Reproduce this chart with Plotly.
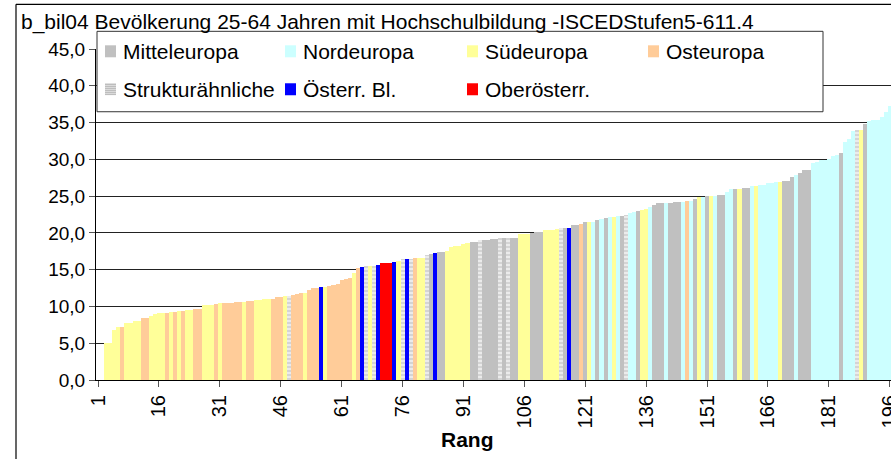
import plotly.graph_objects as go

# ---------------- data ----------------
ranks = list(range(3, 197))
values = [
    5.0, 5.0, 6.8, 7.2, 7.2, 7.75, 7.8, 8.0,
    8.0, 8.4, 8.45, 8.7, 8.95, 9.1, 9.1, 9.1, 9.25, 9.25,
    9.4, 9.4, 9.5, 9.5, 9.65, 9.65, 10.2, 10.2, 10.2, 10.35,
    10.45, 10.5, 10.5, 10.5, 10.6, 10.6, 10.65, 10.75, 10.75, 10.85,
    10.9, 10.95, 10.95, 11.0, 11.3, 11.3, 11.4, 11.4, 11.5, 11.65,
    11.8, 11.8, 12.2, 12.5, 12.5, 12.65, 12.65, 12.8, 12.95, 13.05,
    13.6, 13.7, 13.85, 14.55, 15.2, 15.35, 15.5, 15.5, 15.5, 15.65,
    15.9, 15.9, 15.9, 16.05, 16.2, 16.45, 16.45, 16.5, 16.6, 16.6,
    16.6, 17.0, 17.15, 17.3, 17.4, 17.45, 17.55, 18.1, 18.25, 18.25,
    18.55, 18.6, 18.75, 18.8, 19.05, 19.05, 19.1, 19.2, 19.2, 19.3,
    19.3, 19.3, 19.35, 19.35, 19.85, 19.9, 19.9, 20.05, 20.15, 20.15,
    20.35, 20.4, 20.4, 20.5, 20.65, 20.65, 20.7, 21.1, 21.1, 21.25,
    21.5, 21.5, 21.5, 21.8, 21.95, 22.05, 22.2, 22.2, 22.35, 22.35,
    22.5, 22.75, 22.9, 23.0, 23.15, 23.3, 23.55, 23.85, 24.0, 24.0,
    24.0, 24.1, 24.25, 24.25, 24.25, 24.4, 24.4, 24.65, 24.9, 24.9,
    25.05, 25.05, 25.05, 25.2, 25.2, 25.5, 25.9, 26.0, 26.0, 26.15,
    26.15, 26.4, 26.4, 26.55, 26.55, 26.8, 26.8, 26.95, 26.95, 27.1,
    27.1, 27.65, 27.9, 28.2, 28.6, 28.6, 29.55, 29.7, 29.85, 29.95,
    30.1, 30.4, 30.65, 30.9, 32.4, 32.8, 33.8, 34.05, 34.05, 34.75,
    35.15, 35.3, 35.4, 35.8, 36.4, 37.3,
]
region_codes = (
    "SSSSOSSS"
    "SOOSSSSOSO"
    "SOSSOOSSSO"
    "SOOOOOSOOS"
    "SSSOOOSXOO"
    "OSOOOASOOO"
    "OOOSOAXSXA"
    "RRRASXAXOS"
    "SXMAMMSSSS"
    "SSMMXMMMMX"
    "MXMMSSSMMM"
    "SSSSXMAMMO"
    "MSNMNMNSNM"
    "XNNMSSNMMM"
    "NMMMNONMSN"
    "MSNMMNNMSM"
    "MNSNNNNNSM"
    "MMNMMMNNNN"
    "NNNMNNNXSM"
    "NNNNNN"
)
region_keys = ["M", "N", "S", "O", "X", "A", "R"]
region_names = ["Mitteleuropa", "Nordeuropa", "Südeuropa", "Osteuropa",
                "Strukturähnliche", "Österr. Bl.", "Oberösterr."]
region_colors = ["#C0C0C0", "#CCFFFF", "#FFFF99", "#FFCC99",
                 "#E8E8E8", "#0000FF", "#FF0000"]
tick_ranks = list(range(1, 197, 15))
title_text = "b_bil04 Bevölkerung 25-64 Jahren mit Hochschulbildung -ISCEDStufen5-611.4"

# ---------------- geometry helpers ----------------
W, H = 891, 459
ML, MT, MB = 96, 48.7, 79
PW = W - ML
PH = H - MT - MB
BOTTOM = H - MB


def px(x):
    return (x - ML) / PW


def py(y):
    return (BOTTOM - y) / PH


FONT = "Liberation Sans, Arial, sans-serif"

fig = go.Figure()
for key, name, col in zip(region_keys, region_names, region_colors):
    xs = [r for r, c in zip(ranks, region_codes) if c == key]
    ys = [v for v, c in zip(values, region_codes) if c == key]
    marker = dict(color=col, line=dict(width=0))
    if key == "X":
        marker["pattern"] = dict(shape="-", fgcolor="#B8B8B8", bgcolor="#EBEBEB",
                                 size=4, solidity=0.45)
    fig.add_trace(go.Bar(x=xs, y=ys, name=name, width=1, marker=marker,
                         showlegend=False, hoverinfo="x+y"))

fig.update_layout(
    width=W, height=H,
    margin=dict(l=ML, r=0, t=MT, b=MB, pad=0, autoexpand=False),
    paper_bgcolor="white", plot_bgcolor="white",
    barmode="overlay", bargap=0,
    separators=",.",
    font=dict(family=FONT, size=20, color="black"),
    xaxis=dict(range=[0.5, 0.5 + PW / 4.06], tickmode="array", tickvals=tick_ranks,
               ticktext=[str(t) for t in tick_ranks], tickangle=-90,
               ticks="outside", ticklen=6, tickcolor="#555", showgrid=False,
               zeroline=False, showline=True, linecolor="black", linewidth=1,
               tickfont=dict(size=20), automargin=False, ticklabeloverflow="allow"),
    yaxis=dict(range=[0, 45], tickvals=list(range(0, 50, 5)), tickformat=".1f",
               ticks="outside", ticklen=6, tickcolor="#555", showgrid=True,
               gridcolor="#222", gridwidth=1, zeroline=False, showline=True,
               linecolor="black", linewidth=1, tickfont=dict(size=19),
               automargin=False),
)

shapes = []
annotations = []
# outer chart border (left and top edges; the rest lies outside the picture)
shapes.append(dict(type="line", xref="paper", yref="paper", x0=px(16), x1=px(16),
                   y0=py(H + 20), y1=py(4), line=dict(color="black", width=1.2),
                   layer="above"))
shapes.append(dict(type="line", xref="paper", yref="paper", x0=px(16), x1=px(W + 20),
                   y0=py(4), y1=py(4), line=dict(color="black", width=1.2),
                   layer="above"))
# legend box
shapes.append(dict(type="rect", xref="paper", yref="paper", x0=px(97), x1=px(823),
                   y0=py(111.5), y1=py(31), line=dict(color="#333", width=1),
                   fillcolor="white", layer="above"))
col_x = [105, 285, 467, 648]
row_y = [51, 89]
for i, (key, name, col) in enumerate(zip(region_keys, region_names, region_colors)):
    r, c = divmod(i, 4)
    sx, sy = col_x[c], row_y[r]
    shapes.append(dict(type="rect", xref="paper", yref="paper", x0=px(sx), x1=px(sx + 11),
                       y0=py(sy + 6), y1=py(sy - 6), line=dict(width=0),
                       fillcolor=col, layer="above"))
    if key == "X":
        for k in range(6):
            yy = sy - 5 + 2 * k
            shapes.append(dict(type="line", xref="paper", yref="paper", x0=px(sx), x1=px(sx + 11),
                               y0=py(yy), y1=py(yy), line=dict(color="#B0B0B0", width=1),
                               layer="above"))
    annotations.append(dict(text=name, xref="paper", yref="paper", x=px(sx + 16), y=py(sy),
                            xanchor="left", yanchor="middle", showarrow=False,
                            font=dict(family=FONT, size=21, color="black")))
# title
annotations.append(dict(text=title_text, xref="paper", yref="paper", x=px(19), y=py(22),
                        xanchor="left", yanchor="middle", showarrow=False,
                        font=dict(family=FONT, size=21, color="black")))
# x axis title
annotations.append(dict(text="<b>Rang</b>", xref="paper", yref="paper", x=px(467), y=py(440),
                        xanchor="center", yanchor="middle", showarrow=False,
                        font=dict(family=FONT, size=21, color="black")))
fig.update_layout(shapes=shapes, annotations=annotations)

# remove the browser's default 8px page margin so the figure sits at (0, 0)
fig.write_html("out.html", config={"displayModeBar": False},
               post_script="document.body.style.margin='0';document.body.style.padding='0';")
